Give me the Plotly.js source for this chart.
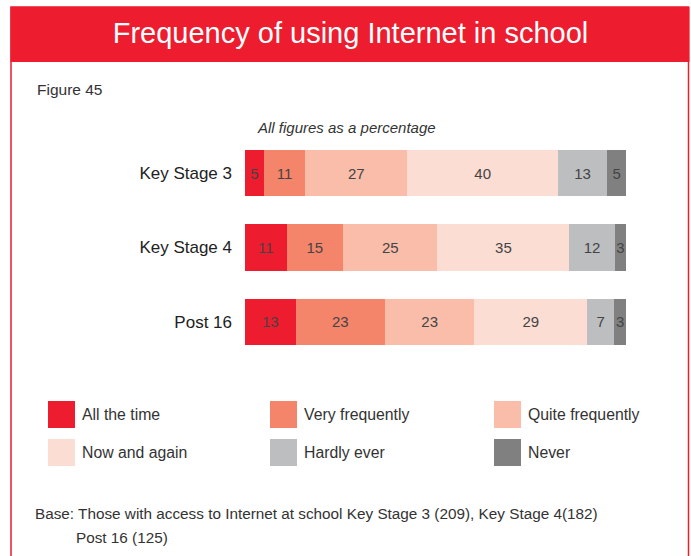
<!DOCTYPE html>
<html>
<head>
<meta charset="utf-8">
<script src="https://cdn.plot.ly/plotly-3.0.1.min.js"></script>
<style>
  html, body { margin: 0; padding: 0; background: #ffffff; }
  #chart { width: 691px; height: 556px; }
</style>
</head>
<body>
<div id="chart"></div>
<script>
// ---- Data ----
const stages = ["Key Stage 3", "Key Stage 4", "Post 16"];
const seriesNames = ["All the time", "Very frequently", "Quite frequently", "Now and again", "Hardly ever", "Never"];
const allTheTime      = [5, 11, 13];
const veryFrequently  = [11, 15, 23];
const quiteFrequently = [27, 25, 23];
const nowAndAgain     = [40, 35, 29];
const hardlyEver      = [13, 12, 7];
const never           = [5, 3, 3];
const seriesColors = ["#ED1C2E", "#F4846A", "#F9BDA9", "#FCDDD3", "#BDBEC0", "#808080"];
const titleText = "Frequency of using Internet in school";
const figureLabel = "Figure 45";
const subtitleText = "All figures as a percentage";
const baseLine1 = "Base: Those with access to Internet at school Key Stage 3 (209), Key Stage 4(182)";
const baseLine2 = "Post 16 (125)";

const seriesValues = [allTheTime, veryFrequently, quiteFrequently, nowAndAgain, hardlyEver, never];

// ---- Layout geometry (pixels) ----
const W = 691, H = 556;
const M = { l: 245, r: 65, t: 136, b: 197 };
const PW = W - M.l - M.r, PH = H - M.t - M.b;
const px = x => (x - M.l) / PW;
const py = y => 1 - (y - M.t) / PH;

const FONT = "Liberation Sans, Arial, sans-serif";
const RED = "#ED1C2E";

const traces = seriesNames.map((name, i) => ({
  type: "bar",
  orientation: "h",
  name: name,
  y: stages,
  x: seriesValues[i],
  text: seriesValues[i].map(String),
  texttemplate: "%{text}",
  textposition: "inside",
  insidetextanchor: "middle",
  constraintext: "none",
  textangle: 0,
  textfont: { family: FONT, size: 15, color: "#444444" },
  marker: { color: seriesColors[i], line: { width: 0 } },
  hoverinfo: "skip",
  showlegend: false
}));

const shapes = [
  // outer frame
  { type: "rect", xref: "paper", yref: "paper", layer: "below",
    x0: px(11), x1: px(688.5), y0: py(7), y1: py(600),
    line: { color: RED, width: 1.5 }, fillcolor: "rgba(0,0,0,0)" },
  // header band
  { type: "rect", xref: "paper", yref: "paper", layer: "below",
    x0: px(10.5), x1: px(689.5), y0: py(7), y1: py(62),
    line: { width: 0 }, fillcolor: RED }
];

const annotations = [
  { text: figureLabel, xref: "paper", yref: "paper", x: px(35), y: py(89),
    xanchor: "left", yanchor: "middle", showarrow: false,
    font: { family: FONT, size: 15.5, color: "#333333" } },
  { text: "<i>" + subtitleText + "</i>", xref: "paper", yref: "paper", x: px(346.5), y: py(127),
    xanchor: "center", yanchor: "middle", showarrow: false,
    font: { family: FONT, size: 15, color: "#333333" } },
  { text: baseLine1, xref: "paper", yref: "paper", x: px(33), y: py(513),
    xanchor: "left", yanchor: "middle", showarrow: false,
    font: { family: FONT, size: 15.3, color: "#333333" } },
  { text: baseLine2, xref: "paper", yref: "paper", x: px(74), y: py(537),
    xanchor: "left", yanchor: "middle", showarrow: false,
    font: { family: FONT, size: 15.3, color: "#333333" } }
];

// custom legend: 2 rows x 3 columns
const legendCols = [48, 270, 494];
const legendRows = [401, 439];
const SW = 27;
seriesNames.forEach((name, i) => {
  const cx = legendCols[i % 3];
  const cy = legendRows[Math.floor(i / 3)];
  shapes.push({ type: "rect", xref: "paper", yref: "paper",
    x0: px(cx), x1: px(cx + SW), y0: py(cy), y1: py(cy + SW),
    line: { width: 0 }, fillcolor: seriesColors[i] });
  annotations.push({ text: name, xref: "paper", yref: "paper",
    x: px(cx + SW + 5), y: py(cy + SW / 2), xanchor: "left", yanchor: "middle",
    showarrow: false, font: { family: FONT, size: 15.8, color: "#333333" } });
});

const layout = {
  width: W, height: H,
  margin: M,
  paper_bgcolor: "#ffffff",
  plot_bgcolor: "#ffffff",
  font: { family: FONT, color: "#222222" },
  title: {
    text: titleText,
    font: { family: FONT, size: 29, color: "#ffffff" },
    xref: "container", yref: "container",
    x: 350.5 / W, y: 1 - 33 / H, xanchor: "center", yanchor: "middle"
  },
  barmode: "stack",
  barnorm: "percent",
  bargap: 0.38,
  showlegend: false,
  xaxis: { range: [0, 100], visible: false, fixedrange: true },
  yaxis: {
    type: "category",
    autorange: "reversed",
    showline: false, showgrid: false, zeroline: false,
    ticks: "", ticklabelstandoff: 12,
    tickfont: { family: FONT, size: 17, color: "#222222" },
    fixedrange: true
  },
  shapes: shapes,
  annotations: annotations
};

Plotly.newPlot("chart", traces, layout, { staticPlot: true, displayModeBar: false });
</script>
</body>
</html>
